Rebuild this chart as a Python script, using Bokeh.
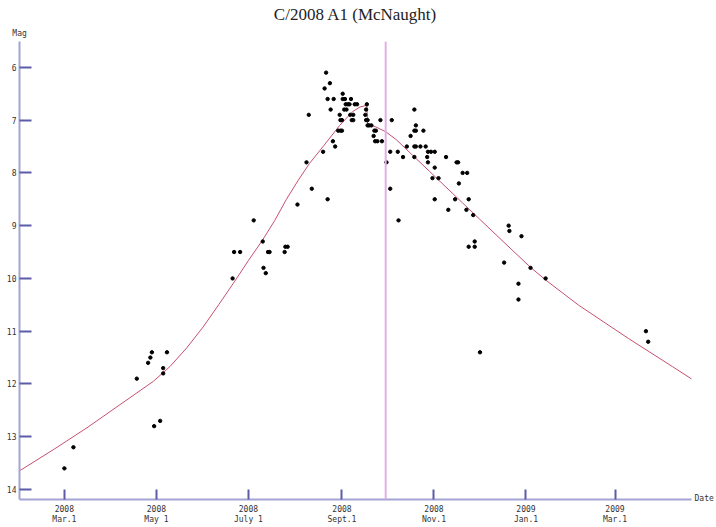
import pandas as pd
from bokeh.plotting import figure
from bokeh.models import Range1d, FixedTicker, Span, ColumnDataSource, LinearAxis
from bokeh.embed import file_html
from bokeh.resources import INLINE

# ---------------- data ----------------
obs_dates = [
    "2008-03-01", "2008-03-07", "2008-04-18", "2008-04-25 12:00", "2008-04-27", "2008-04-28",
    "2008-04-29 12:00", "2008-05-03 12:00", "2008-05-05 12:00", "2008-05-05 12:00", "2008-05-08",
    "2008-06-20 12:00", "2008-06-21 12:00", "2008-06-25 12:00", "2008-07-04 12:00", "2008-07-10 12:00",
    "2008-07-11", "2008-07-12 12:00", "2008-07-14", "2008-07-15", "2008-07-25", "2008-07-25 12:00",
    "2008-07-27", "2008-08-02 12:00", "2008-08-08 12:00", "2008-08-10", "2008-08-12",
    "2008-08-19 12:00", "2008-08-20 12:00", "2008-08-21 12:00", "2008-08-22 12:00", "2008-08-22 12:00",
    "2008-08-24", "2008-08-24 12:00", "2008-08-26", "2008-08-26 12:00", "2008-08-27 12:00",
    "2008-08-29 12:00", "2008-08-30 12:00", "2008-08-31", "2008-08-31", "2008-09-01", "2008-09-01",
    "2008-09-01 12:00", "2008-09-01 12:00", "2008-09-02 12:00", "2008-09-03", "2008-09-03 12:00",
    "2008-09-04", "2008-09-05", "2008-09-06", "2008-09-06 12:00", "2008-09-07", "2008-09-07 12:00",
    "2008-09-08 12:00", "2008-09-08 12:00", "2008-09-09 12:00", "2008-09-11",
    "2008-09-16 12:00", "2008-09-17", "2008-09-17", "2008-09-17 12:00", "2008-09-18", "2008-09-18",
    "2008-09-19", "2008-09-20 12:00", "2008-09-22", "2008-09-22 12:00", "2008-09-23",
    "2008-09-23 12:00", "2008-09-24 12:00", "2008-09-26 12:00", "2008-09-27 12:00",
    "2008-09-30 12:00", "2008-10-03", "2008-10-03", "2008-10-04", "2008-10-08", "2008-10-08 12:00",
    "2008-10-11 12:00", "2008-10-14", "2008-10-16 12:00", "2008-10-19", "2008-10-19", "2008-10-19",
    "2008-10-19", "2008-10-20", "2008-10-20", "2008-10-20", "2008-10-23", "2008-10-25",
    "2008-10-26 12:00", "2008-10-27 12:00", "2008-10-28", "2008-10-28", "2008-10-30", "2008-10-31",
    "2008-11-01 12:00", "2008-11-01 12:00", "2008-11-01 12:00", "2008-11-04", "2008-11-09",
    "2008-11-10 12:00", "2008-11-15", "2008-11-16", "2008-11-17", "2008-11-17 12:00", "2008-11-20",
    "2008-11-22 12:00", "2008-11-23", "2008-11-24", "2008-11-24", "2008-11-27", "2008-11-28",
    "2008-11-28", "2008-12-01 12:00", "2008-12-17 12:00", "2008-12-20 12:00", "2008-12-21",
    "2008-12-27", "2008-12-27", "2008-12-29", "2009-01-04", "2009-01-14", "2009-03-21 12:00",
    "2009-03-23",
]
obs_mag = [
    13.6, 13.2, 11.9, 11.6, 11.5, 11.4,
    12.8, 12.7, 11.7, 11.8, 11.4,
    10.0, 9.5, 9.5, 8.9, 9.3,
    9.8, 9.9, 9.5, 9.5, 9.5, 9.4,
    9.4, 8.6, 7.8, 6.9, 8.3,
    7.6, 6.4, 6.1, 8.5, 6.6,
    6.3, 6.8, 7.4, 6.6, 7.5,
    7.2, 6.9, 7.2, 7.0, 7.0, 7.2,
    6.5, 6.6, 6.8, 6.6, 6.7,
    6.8, 6.7, 6.7, 6.9, 6.6, 7.0,
    7.0, 6.9, 6.7, 6.7,
    6.9, 6.8, 7.0, 6.7, 7.1, 7.0,
    7.1, 7.1, 7.3, 7.2, 7.4,
    7.2, 7.4, 7.0, 7.4,
    7.8, 7.6, 8.3, 7.0, 7.6, 8.9,
    7.7, 7.5, 7.3, 7.5, 6.8, 7.2,
    7.7, 7.5, 7.1, 7.2, 7.5, 7.2,
    7.5, 7.7, 7.6, 7.8, 7.6, 8.1,
    7.6, 7.9, 8.5, 8.1, 7.7,
    8.7, 8.5, 7.8, 7.8, 8.2, 8.0,
    8.7, 8.0, 8.5, 9.4, 8.8, 9.3,
    9.4, 11.4, 9.7, 9.0, 9.1,
    10.1, 10.4, 9.2, 9.8, 10.0, 11.0,
    11.2,
]

curve_dates = [
    "2008-01-30", "2008-02-23", "2008-03-16", "2008-04-07", "2008-04-29",
    "2008-05-10", "2008-05-21", "2008-06-01", "2008-06-11 12:00", "2008-06-22",
    "2008-07-01", "2008-07-10", "2008-07-18 12:00", "2008-07-26", "2008-08-03",
    "2008-08-10 12:00", "2008-08-19 12:00", "2008-08-30 12:00", "2008-09-08", "2008-09-13",
    "2008-09-17 12:00", "2008-09-18", "2008-09-23 12:00", "2008-09-30", "2008-10-07",
    "2008-10-18", "2008-10-29", "2008-11-09", "2008-11-20", "2008-12-01",
    "2008-12-22", "2009-01-04", "2009-01-14", "2009-02-05", "2009-03-10",
    "2009-04-08", "2009-04-21",
]
curve_mag = [
    13.67, 13.24, 12.83, 12.39, 11.95,
    11.67, 11.32, 10.92, 10.49, 10.05,
    9.66, 9.29, 8.90, 8.51, 8.14,
    7.82, 7.50, 7.10, 6.84, 6.75,
    6.72, 7.07, 7.13, 7.22, 7.37,
    7.67, 7.97, 8.27, 8.57, 8.87,
    9.44, 9.79, 10.03, 10.51, 11.14,
    11.67, 11.91,
]

tick_dates = ["2008-03-01", "2008-05-01", "2008-07-01", "2008-09-01",
              "2008-11-01", "2009-01-01", "2009-03-01"]
tick_labels = ["2008\nMar.1", "2008\nMay 1", "2008\nJuly 1", "2008\nSept.1",
               "2008\nNov.1", "2009\nJan.1", "2009\nMar.1"]
mag_ticks = [6, 7, 8, 9, 10, 11, 12, 13, 14]
perihelion_date = "2008-09-30"

title_text = "C/2008 A1 (McNaught)"
y_name = "Mag"
x_name = "Date"


def to_ms(s):
    return int(pd.Timestamp(s).value // 10**6)


x_start = pd.Timestamp("2008-01-31 06:00")
x_end = pd.Timestamp("2009-04-20 17:00")
y_bottom, y_top = 14.19, 5.51

obs_src = ColumnDataSource(dict(x=pd.to_datetime(obs_dates, format="mixed"), y=obs_mag))
curve_src = ColumnDataSource(dict(x=pd.to_datetime(curve_dates, format="mixed"), y=curve_mag))

p = figure(width=716, height=527, x_axis_type="datetime",
           output_backend="svg", toolbar_location=None,
           x_range=Range1d(x_start, x_end), y_range=Range1d(y_bottom, y_top),
           min_border_left=19, min_border_right=23, min_border_top=41, min_border_bottom=25,
           background_fill_color="white", border_fill_color="white")
p.outline_line_color = None
p.xgrid.visible = False
p.ygrid.visible = False

p.title.text = title_text
p.title.align = "center"
p.title.text_font = "Liberation Serif"
p.title.text_font_size = "17px"
p.title.text_font_style = "normal"
p.title.text_color = "#222222"
p.title.standoff = 3

axis_col = "#a4a4d4"
tick_col = "#5c5ca8"
lab_font = "DejaVu Sans Mono"
lab_col = "#333333"

xa = p.xaxis[0]
xa.ticker = FixedTicker(ticks=[to_ms(d) for d in tick_dates])
xa.major_label_overrides = {to_ms(d): lab for d, lab in zip(tick_dates, tick_labels)}
xa.axis_line_color = axis_col
xa.axis_line_width = 2
xa.major_tick_line_color = tick_col
xa.major_tick_line_width = 2
xa.major_tick_in = 10
xa.major_tick_out = 0
xa.minor_tick_line_color = None
xa.major_label_standoff = 5
xa.major_label_text_font = lab_font
xa.major_label_text_font_size = "8px"
xa.major_label_text_color = lab_col

ya = p.yaxis[0]
ya.ticker = FixedTicker(ticks=mag_ticks)
ya.axis_line_color = axis_col
ya.axis_line_width = 2
ya.major_tick_line_color = tick_col
ya.major_tick_line_width = 2
ya.major_tick_in = 12
ya.major_tick_out = 0
ya.minor_tick_line_color = None
ya.major_label_standoff = 3
ya.major_label_text_font = lab_font
ya.major_label_text_font_size = "8px"
ya.major_label_text_color = lab_col

# axis names: "Mag" above the y axis, "Date" at the right end of the x axis
mag_pos = to_ms(x_start + pd.Timedelta(hours=1))
top_axis = LinearAxis(ticker=FixedTicker(ticks=[mag_pos]),
                      major_label_overrides={mag_pos: y_name},
                      axis_line_color=None, major_tick_line_color=None,
                      minor_tick_line_color=None, major_tick_in=0, major_tick_out=0,
                      major_label_standoff=4, major_label_text_font=lab_font,
                      major_label_text_font_size="8px", major_label_text_color=lab_col)
p.add_layout(top_axis, "above")

date_pos = 14.18
right_axis = LinearAxis(ticker=FixedTicker(ticks=[date_pos]),
                        major_label_overrides={date_pos: x_name},
                        axis_line_color=None, major_tick_line_color=None,
                        minor_tick_line_color=None, major_tick_in=0, major_tick_out=0,
                        major_label_standoff=3, major_label_text_font=lab_font,
                        major_label_text_font_size="8px", major_label_text_color=lab_col,
                        major_label_text_baseline="top")
p.add_layout(right_axis, "right")

p.add_layout(Span(location=to_ms(perihelion_date), dimension="height",
                  line_color="#e2aee6", line_width=2))

p.line("x", "y", source=curve_src, line_color="#c8506e", line_width=1)
p.scatter("x", "y", source=obs_src, size=3.4, color="black", marker="circle")

open("out.html", "w").write(file_html(p, INLINE))
